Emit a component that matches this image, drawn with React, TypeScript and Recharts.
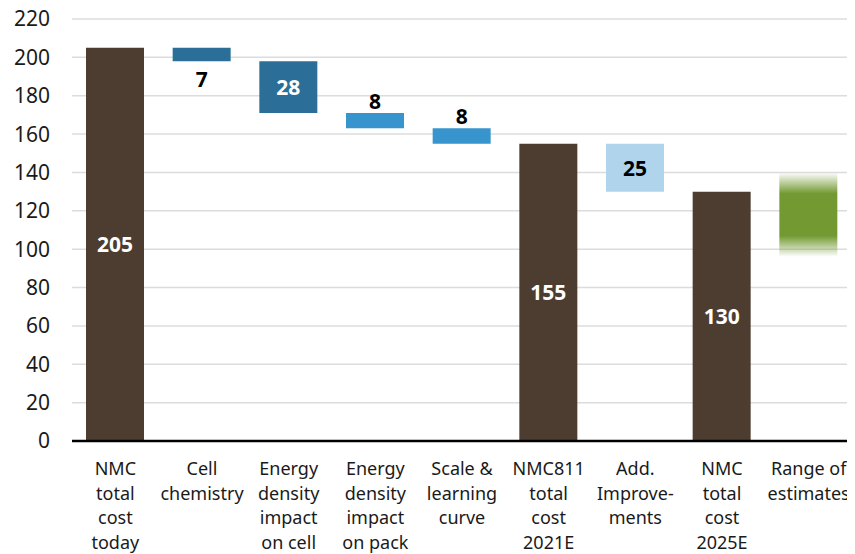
import React from "react";
import { BarChart, Bar, XAxis, YAxis, CartesianGrid, Cell, LabelList } from "recharts";

const categories = [
  "NMC\ntotal\ncost\ntoday",
  "Cell\nchemistry",
  "Energy\ndensity\nimpact\non cell",
  "Energy\ndensity\nimpact\non pack",
  "Scale &\nlearning\ncurve",
  "NMC811\ntotal\ncost\n2021E",
  "Add.\nImprove-\nments",
  "NMC\ntotal\ncost\n2025E",
  "Range of\nestimates",
];
const lows = [0, 198, 171, 163, 155, 0, 130, 0, 96];
const highs = [205, 205, 198, 171, 163, 155, 155, 130, 140];
const labels = ["205", "7", "28", "8", "8", "155", "25", "130", ""];
const yTicks = [0, 20, 40, 60, 80, 100, 120, 140, 160, 180, 200, 220];

const colors = [
  "#4d3d31",
  "#2b6f98",
  "#2b6f98",
  "#3794cc",
  "#3794cc",
  "#4d3d31",
  "#afd4ec",
  "#4d3d31",
  "url(#rangeGrad)",
];
const labelModes = ["inWhite", "below", "inWhite", "above", "above", "inWhite", "inBlack", "inWhite", "none"];

const data = categories.map((name, i) => ({
  name,
  base: lows[i],
  delta: highs[i] - lows[i],
  label: labels[i],
}));

const FONT = "'Noto Sans', 'Open Sans', sans-serif";

const XTick = (props: any) => {
  const { x, y, payload } = props;
  const lines = String(payload.value).split("\n");
  return (
    <g transform={`translate(${x},${y})`}>
      <text textAnchor="middle" fontFamily={FONT} fontSize={18} fill="#1a1a1a">
        {lines.map((l, i) => (
          <tspan key={i} x={0} dy={i === 0 ? 34 : 24.5}>
            {l}
          </tspan>
        ))}
      </text>
    </g>
  );
};

const renderLabel = (props: any) => {
  const { x, y, width, height, index, value } = props;
  const mode = labelModes[index];
  if (mode === "none" || !value) return null;
  const cx = x + width / 2;
  let ty = y + height / 2;
  let fill = "#ffffff";
  if (mode === "below") {
    ty = y + height + 18;
    fill = "#000000";
  } else if (mode === "above") {
    ty = y - 12;
    fill = "#000000";
  } else if (mode === "inBlack") {
    fill = "#000000";
  }
  return (
    <text
      x={cx}
      y={ty}
      textAnchor="middle"
      dominantBaseline="central"
      fontFamily={FONT}
      fontSize={21}
      fontWeight={700}
      fill={fill}
    >
      {value}
    </text>
  );
};

export default function App() {
  return (
    <div style={{ width: 847, height: 554, marginTop: -8 }}>
      <BarChart
        width={847}
        height={554}
        data={data}
        margin={{ top: 19, right: 3, left: 14, bottom: 3 }}
        barSize={58}
      >
        <defs>
          <linearGradient id="rangeGrad" x1="0" y1="0" x2="0" y2="1">
            <stop offset="0%" stopColor="#739a32" stopOpacity={0} />
            <stop offset="25%" stopColor="#739a32" stopOpacity={1} />
            <stop offset="75%" stopColor="#739a32" stopOpacity={1} />
            <stop offset="100%" stopColor="#739a32" stopOpacity={0} />
          </linearGradient>
        </defs>
        <CartesianGrid vertical={false} stroke="#dcdcdc" strokeWidth={1.5} />
        <XAxis
          dataKey="name"
          interval={0}
          tick={<XTick />}
          tickLine={false}
          tickSize={0}
          tickMargin={0}
          axisLine={{ stroke: "#000", strokeWidth: 2.5 }}
          height={110}
        />
        <YAxis
          domain={[0, 220]}
          ticks={yTicks}
          width={50}
          axisLine={false}
          tickLine={false}
          tickSize={0}
          tickMargin={22}
          tick={{ fontFamily: FONT, fontSize: 21, fill: "#1a1a1a" }}
        />
        <Bar dataKey="base" stackId="w" fill="transparent" isAnimationActive={false} />
        <Bar dataKey="delta" stackId="w" isAnimationActive={false}>
          {data.map((d, i) => (
            <Cell key={i} fill={colors[i]} />
          ))}
          <LabelList dataKey="label" content={renderLabel} />
        </Bar>
      </BarChart>
    </div>
  );
}
